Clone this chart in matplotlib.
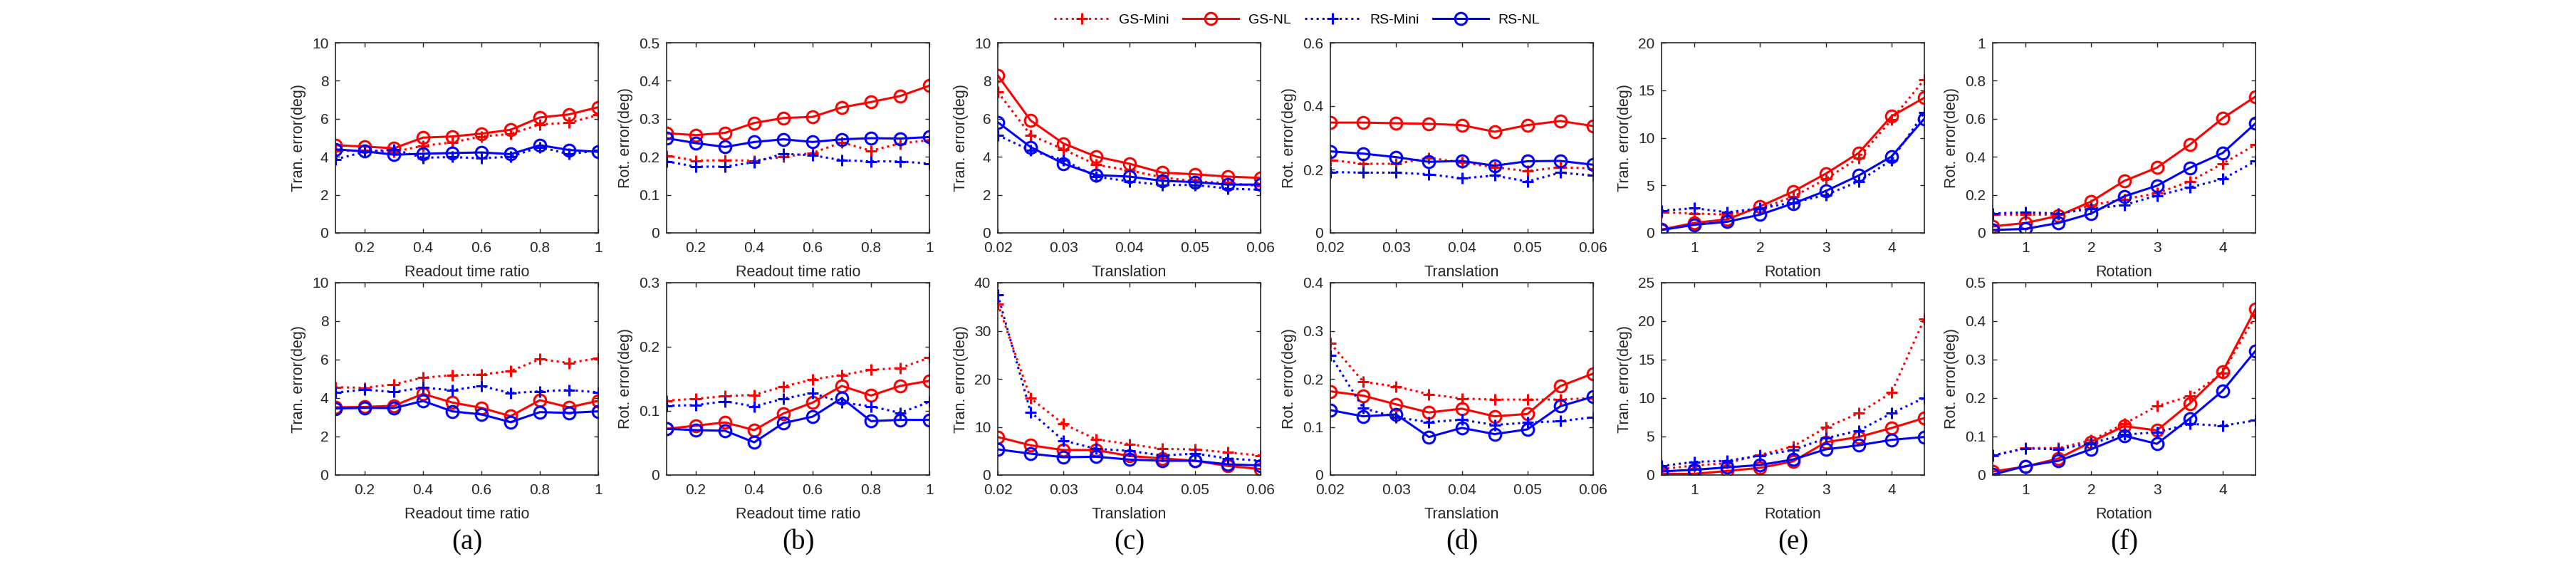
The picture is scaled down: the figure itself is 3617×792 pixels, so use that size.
import matplotlib
matplotlib.use('Agg')
import matplotlib.pyplot as plt
from matplotlib.ticker import FuncFormatter

plt.rcParams['font.family'] = ['Liberation Sans', 'DejaVu Sans']

# x values
readout = [0.1, 0.2, 0.3, 0.4, 0.5, 0.6, 0.7, 0.8, 0.9, 1.0]
transl = [0.02, 0.025, 0.03, 0.035, 0.04, 0.045, 0.05, 0.055, 0.06]
rot = [0.5, 1.0, 1.5, 2.0, 2.5, 3.0, 3.5, 4.0, 4.5]

# top row
a1_gs_mini = [4.30, 4.33, 4.26, 4.58, 4.76, 5.07, 5.20, 5.70, 5.79, 6.20]
a1_gs_nl = [4.61, 4.54, 4.45, 5.01, 5.07, 5.22, 5.42, 6.07, 6.23, 6.61]
a1_rs_mini = [3.87, 4.26, 4.39, 3.95, 3.99, 3.92, 4.01, 4.51, 4.14, 4.33]
a1_rs_nl = [4.39, 4.29, 4.11, 4.16, 4.20, 4.23, 4.14, 4.61, 4.36, 4.26]

b1_gs_mini = [0.203, 0.190, 0.191, 0.190, 0.200, 0.210, 0.238, 0.216, 0.235, 0.244]
b1_gs_nl = [0.262, 0.257, 0.263, 0.289, 0.302, 0.305, 0.330, 0.344, 0.360, 0.387]
b1_rs_mini = [0.188, 0.174, 0.174, 0.186, 0.208, 0.204, 0.191, 0.188, 0.188, 0.182]
b1_rs_nl = [0.249, 0.236, 0.226, 0.239, 0.246, 0.239, 0.246, 0.249, 0.248, 0.252]

c1_gs_mini = [7.41, 5.14, 4.39, 3.58, 3.29, 2.92, 2.71, 2.62, 2.46]
c1_gs_nl = [8.28, 5.91, 4.70, 4.01, 3.64, 3.17, 3.08, 2.96, 2.89]
c1_rs_mini = [5.14, 4.33, 3.83, 2.96, 2.71, 2.52, 2.52, 2.33, 2.27]
c1_rs_nl = [5.82, 4.51, 3.64, 3.04, 2.96, 2.74, 2.67, 2.54, 2.54]

d1_gs_mini = [0.230, 0.218, 0.218, 0.237, 0.222, 0.207, 0.195, 0.207, 0.203]
d1_gs_nl = [0.348, 0.348, 0.346, 0.344, 0.340, 0.319, 0.340, 0.353, 0.337]
d1_rs_mini = [0.192, 0.190, 0.190, 0.185, 0.172, 0.181, 0.162, 0.190, 0.181]
d1_rs_nl = [0.257, 0.250, 0.239, 0.224, 0.227, 0.212, 0.226, 0.227, 0.215]

e1_gs_mini = [2.17, 2.04, 1.92, 2.54, 3.79, 5.66, 7.90, 11.90, 16.13]
e1_gs_nl = [0.35, 1.05, 1.42, 2.79, 4.34, 6.23, 8.40, 12.27, 14.21]
e1_rs_mini = [2.34, 2.59, 2.17, 2.59, 3.17, 3.99, 5.41, 7.66, 12.64]
e1_rs_nl = [0.30, 0.85, 1.17, 1.92, 3.09, 4.41, 6.03, 8.03, 12.02]

f1_gs_mini = [0.096, 0.096, 0.096, 0.146, 0.177, 0.208, 0.271, 0.364, 0.464]
f1_gs_nl = [0.034, 0.052, 0.090, 0.165, 0.273, 0.343, 0.464, 0.603, 0.717]
f1_rs_mini = [0.102, 0.108, 0.102, 0.127, 0.146, 0.196, 0.239, 0.283, 0.377]
f1_rs_nl = [0.015, 0.021, 0.052, 0.102, 0.192, 0.248, 0.342, 0.420, 0.576]

# bottom row
a2_gs_mini = [4.57, 4.53, 4.72, 5.06, 5.19, 5.22, 5.41, 6.02, 5.83, 6.07]
a2_gs_nl = [3.52, 3.54, 3.60, 4.22, 3.77, 3.49, 3.06, 3.89, 3.52, 3.86]
a2_rs_mini = [4.28, 4.44, 4.32, 4.54, 4.41, 4.63, 4.26, 4.35, 4.42, 4.30]
a2_rs_nl = [3.46, 3.49, 3.48, 3.85, 3.31, 3.15, 2.75, 3.27, 3.23, 3.31]

b2_gs_mini = [0.116, 0.119, 0.123, 0.125, 0.138, 0.149, 0.156, 0.164, 0.167, 0.183]
b2_gs_nl = [0.072, 0.077, 0.082, 0.070, 0.096, 0.113, 0.139, 0.124, 0.139, 0.147]
b2_rs_mini = [0.108, 0.109, 0.115, 0.107, 0.119, 0.128, 0.113, 0.107, 0.097, 0.114]
b2_rs_nl = [0.072, 0.070, 0.069, 0.051, 0.081, 0.091, 0.120, 0.084, 0.086, 0.086]

c2_gs_mini = [35.6, 15.95, 10.6, 7.4, 6.42, 5.43, 5.33, 4.69, 4.05]
c2_gs_nl = [7.9, 6.17, 5.19, 5.19, 3.95, 3.46, 2.96, 1.88, 1.23]
c2_rs_mini = [37.5, 13.1, 7.16, 5.43, 5.04, 4.05, 4.44, 3.46, 2.96]
c2_rs_nl = [5.33, 4.44, 3.70, 3.80, 3.21, 2.96, 2.96, 2.22, 1.98]

d2_gs_mini = [0.274, 0.194, 0.184, 0.168, 0.159, 0.157, 0.157, 0.157, 0.160]
d2_gs_nl = [0.174, 0.165, 0.147, 0.130, 0.138, 0.122, 0.127, 0.185, 0.211]
d2_rs_mini = [0.249, 0.139, 0.120, 0.110, 0.115, 0.104, 0.109, 0.112, 0.120]
d2_rs_nl = [0.135, 0.122, 0.126, 0.079, 0.098, 0.085, 0.095, 0.143, 0.163]

e2_gs_mini = [0.77, 1.23, 1.54, 2.62, 3.70, 6.17, 8.02, 10.71, 20.31]
e2_gs_nl = [0.15, 0.15, 0.52, 0.93, 1.76, 4.26, 4.94, 6.11, 7.41]
e2_rs_mini = [1.17, 1.70, 1.85, 2.53, 3.24, 4.78, 5.77, 8.02, 10.03]
e2_rs_nl = [0.46, 0.68, 0.99, 1.30, 2.01, 3.33, 3.86, 4.57, 4.94]

f2_gs_mini = [0.050, 0.070, 0.070, 0.090, 0.133, 0.179, 0.205, 0.265, 0.414]
f2_gs_nl = [0.009, 0.022, 0.043, 0.086, 0.127, 0.116, 0.186, 0.269, 0.432]
f2_rs_mini = [0.051, 0.069, 0.067, 0.083, 0.105, 0.111, 0.133, 0.128, 0.142]
f2_rs_nl = [0.001, 0.023, 0.037, 0.067, 0.102, 0.081, 0.147, 0.219, 0.323]

names = ['GS-Mini', 'GS-NL', 'RS-Mini', 'RS-NL']
tran_lab = 'Tran. error(deg)'
rot_lab = 'Rot. error(deg)'

panels_top = [
    (readout, [a1_gs_mini, a1_gs_nl, a1_rs_mini, a1_rs_nl], tran_lab, 'Readout time ratio', 10, 2),
    (readout, [b1_gs_mini, b1_gs_nl, b1_rs_mini, b1_rs_nl], rot_lab, 'Readout time ratio', 0.5, 0.1),
    (transl, [c1_gs_mini, c1_gs_nl, c1_rs_mini, c1_rs_nl], tran_lab, 'Translation', 10, 2),
    (transl, [d1_gs_mini, d1_gs_nl, d1_rs_mini, d1_rs_nl], rot_lab, 'Translation', 0.6, 0.2),
    (rot, [e1_gs_mini, e1_gs_nl, e1_rs_mini, e1_rs_nl], tran_lab, 'Rotation', 20, 5),
    (rot, [f1_gs_mini, f1_gs_nl, f1_rs_mini, f1_rs_nl], rot_lab, 'Rotation', 1.0, 0.2),
]
panels_bot = [
    (readout, [a2_gs_mini, a2_gs_nl, a2_rs_mini, a2_rs_nl], tran_lab, 'Readout time ratio', 10, 2),
    (readout, [b2_gs_mini, b2_gs_nl, b2_rs_mini, b2_rs_nl], rot_lab, 'Readout time ratio', 0.3, 0.1),
    (transl, [c2_gs_mini, c2_gs_nl, c2_rs_mini, c2_rs_nl], tran_lab, 'Translation', 40, 10),
    (transl, [d2_gs_mini, d2_gs_nl, d2_rs_mini, d2_rs_nl], rot_lab, 'Translation', 0.4, 0.1),
    (rot, [e2_gs_mini, e2_gs_nl, e2_rs_mini, e2_rs_nl], tran_lab, 'Rotation', 25, 5),
    (rot, [f2_gs_mini, f2_gs_nl, f2_rs_mini, f2_rs_nl], rot_lab, 'Rotation', 0.5, 0.1),
]
sub_labels = ['(a)', '(b)', '(c)', '(d)', '(e)', '(f)']

xsetup = {
    'Readout time ratio': ((0.1, 1.0), [0.2, 0.4, 0.6, 0.8, 1.0]),
    'Translation': ((0.02, 0.06), [0.02, 0.03, 0.04, 0.05, 0.06]),
    'Rotation': ((0.5, 4.5), [1, 2, 3, 4]),
}

styles = [
    dict(color='red', linestyle=':', marker='+'),
    dict(color='red', linestyle='-', marker='o', markerfacecolor='none'),
    dict(color='blue', linestyle=':', marker='+'),
    dict(color='blue', linestyle='-', marker='o', markerfacecolor='none'),
]

W, H = 3617, 792
fig = plt.figure(figsize=(W / 100, H / 100), dpi=100)

lefts = [471, 936, 1401, 1868, 2333, 2798]
pw = 369
rows = [(60, 327, panels_top), (397, 667, panels_bot)]

fmt = FuncFormatter(lambda v, p: f'{round(v, 6):g}')
axis_col = '#262626'
handles = None

for top, bot, panels in rows:
    for i, (xs, series, ylab, xlab, ymax, ystep) in enumerate(panels):
        ax = fig.add_axes([lefts[i] / W, 1 - bot / H, pw / W, (bot - top) / H])
        lines = []
        for ys, st, nm in zip(series, styles, names):
            ln, = ax.plot(xs, ys, linewidth=2.2, markersize=12, markeredgewidth=2.2,
                          label=nm, **st)
            lines.append(ln)
        if handles is None:
            handles = lines
        xlim, xt = xsetup[xlab]
        ax.set_xlim(*xlim)
        ax.set_xticks(xt)
        n = int(round(ymax / ystep))
        ax.set_ylim(0, ymax)
        ax.set_yticks([round(k * ystep, 6) for k in range(n + 1)])
        ax.xaxis.set_major_formatter(fmt)
        ax.yaxis.set_major_formatter(fmt)
        ax.tick_params(direction='in', top=True, right=True, length=4, width=1,
                       labelsize=15, colors=axis_col, labelcolor=axis_col)
        ax.tick_params(axis='x', pad=9)
        ax.tick_params(axis='y', pad=7)
        for sp in ax.spines.values():
            sp.set_color(axis_col)
            sp.set_linewidth(1.2)
        ax.set_xlabel(xlab, fontsize=15.5, color=axis_col, labelpad=10)
        ax.set_ylabel(ylab, fontsize=15.5, color=axis_col, labelpad=6)
        if panels is panels_bot:
            fig.text((lefts[i] + pw / 2) / W, 1 - 762 / H, sub_labels[i],
                     family=['Liberation Serif', 'DejaVu Serif'], fontsize=28,
                     ha='center', va='center')

fig.legend(handles=handles, labels=names, loc='center', bbox_to_anchor=(1821 / W, 1 - 28 / H),
           ncol=4, frameon=False, fontsize=14, handlelength=4, handletextpad=0.7,
           columnspacing=1.0, borderpad=0)

fig.savefig('out.png', dpi=100)
